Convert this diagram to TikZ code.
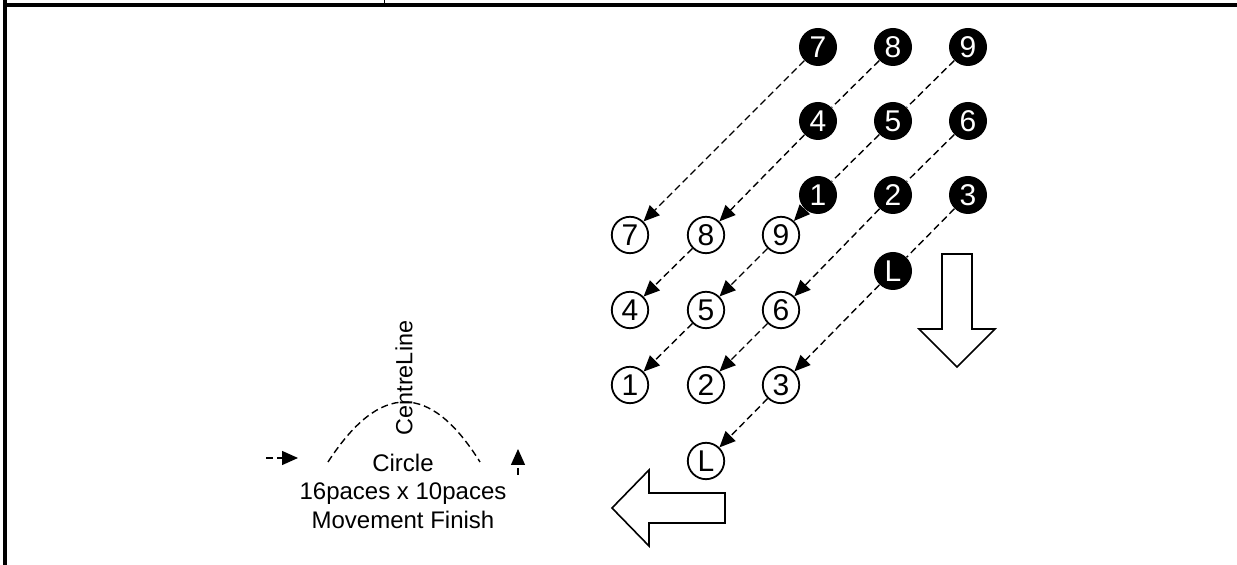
\documentclass[tikz,border=0pt]{standalone}
\usepackage{fontspec}
\setmainfont{Liberation Sans}
\usetikzlibrary{arrows.meta}
\tikzset{>={Triangle[length=8pt,width=7pt]}}
\tikzset{
  blackspot/.style={circle, fill=black, text=white, minimum size=19pt, inner sep=0pt, font=\fontsize{15}{17}\selectfont},
  whitespot/.style={circle, draw, fill=white, line width=.9pt, minimum size=18.2pt, inner sep=0pt, font=\fontsize{15}{17}\selectfont},
  march/.style={line width=.7pt, dash pattern=on 3.5pt off 2pt},
  bigarrow/.style={draw, fill=white, line width=.8pt, line join=miter}
}

\begin{document}
\begin{tikzpicture}[x=.5pt, y=-.5pt]
        \useasboundingbox (0, 0) rectangle (1237, 565);
        % frame
        \draw[line width=2pt] (5, 0) -- (5, 565);
        \draw[line width=1.8pt] (4, 5) -- (1237, 5);
        \draw[line width=.5pt] (384, 0) -- (384, 4);
        % node
        \foreach \n/\x/\y in {7/818/47, 8/893/47, 9/968/47, 4/818/121, 5/893/121, 6/968/121, 1/818/195, 2/893/195, 3/968/195, L/893/271}
          \node[blackspot] (b\n) at (\x, \y) {\n};
        \foreach \n/\x/\y in {7/630/235, 8/706/235, 9/781/235, 4/630/310, 5/706/310, 6/781/310, 1/630/385, 2/706/385, 3/781/385, L/706/461}
          \node[whitespot] (w\n) at (\x, \y) {\n};
        % lines
        \foreach \a/\b in {b8/b4, b9/b5, b5/b1, b6/b2, b3/bL}
          \draw[march] (\a) -- (\b);
        \foreach \a/\b in {b7/w7, b4/w8, w8/w4, b1/w9, w9/w5, w5/w1, b2/w6, w6/w2, bL/w3, w3/wL}
          \draw[march, ->] (\a) -- (\b);
        % block arrows
        \draw[bigarrow] (942, 254) -- (972, 254) -- (972, 329) -- (995, 329) -- (957, 367) -- (919, 329) -- (942, 329) -- cycle;
        \draw[bigarrow] (725, 493) -- (725, 523) -- (649, 523) -- (649, 546) -- (612, 508) -- (649, 470) -- (649, 493) -- cycle;
        % circle
        \coordinate (arcl) at (328, 462);
        \coordinate (arcr) at (480, 462);
        \draw[march] (arcl) .. controls (380, 382) and (430, 382) .. (arcr);
        \node[rotate=90, font=\fontsize{11.7}{14}\selectfont] (centre) at (404, 378) {CentreLine};
        \node[align=center, font=\fontsize{12}{14.25}\selectfont] (finishtext) at (403, 491) {Circle\\16paces x 10paces\\Movement Finish};
        \coordinate (lefttail) at (266, 458);
        \coordinate (lefthead) at (298, 458);
        \coordinate (uptail) at (518, 475);
        \coordinate (uphead) at (518, 449);
        \draw[march, ->] (lefttail) -- (lefthead);
        \draw[march, ->] (uptail) -- (uphead);
      \end{tikzpicture}
\end{document}
